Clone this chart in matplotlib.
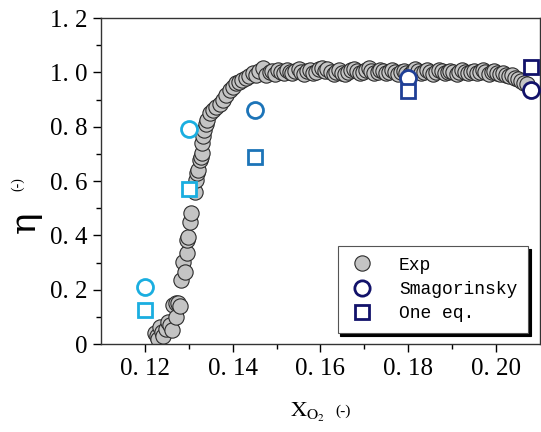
import numpy as np
import matplotlib
matplotlib.use('Agg')
import matplotlib.pyplot as plt
from matplotlib.lines import Line2D

# experiment, steep part
exp_x_low = [0.1223, 0.1228, 0.1230, 0.1234, 0.1238, 0.1242, 0.1247, 0.1253, 0.1258, 0.1261,
             0.1264, 0.1270, 0.1272, 0.1276, 0.1280, 0.1283, 0.1287, 0.1291, 0.1295, 0.1295,
             0.1298, 0.1302, 0.1306, 0.1314, 0.1317, 0.1319, 0.1321, 0.1325, 0.1327, 0.1329,
             0.1331, 0.1333, 0.1335, 0.1340, 0.1342, 0.1348, 0.1355, 0.1363, 0.1370, 0.1378,
             0.1385, 0.1393, 0.1400, 0.1408, 0.1415, 0.1422, 0.1431, 0.1438, 0.1446, 0.1452,
             0.1460, 0.1469, 0.1477]
exp_y_low = [0.039, 0.030, 0.020, 0.064, 0.045, 0.030, 0.055, 0.082, 0.070, 0.052,
             0.144, 0.150, 0.100, 0.150, 0.140, 0.235, 0.303, 0.266, 0.334, 0.383,
             0.395, 0.450, 0.481, 0.561, 0.604, 0.628, 0.640, 0.677, 0.689, 0.702,
             0.739, 0.765, 0.788, 0.810, 0.824, 0.849, 0.860, 0.873, 0.885, 0.898,
             0.915, 0.935, 0.945, 0.959, 0.965, 0.970, 0.978, 0.985, 0.996, 0.990,
             1.005, 1.015, 0.990]
# experiment, plateau
exp_x_top = [0.1484, 0.1490, 0.1497, 0.1503, 0.1510, 0.1516, 0.1523, 0.1530, 0.1536, 0.1543,
             0.1550, 0.1556, 0.1563, 0.1570, 0.1576, 0.1583, 0.1590, 0.1596, 0.1603, 0.1610,
             0.1616, 0.1623, 0.1630, 0.1636, 0.1643, 0.1650, 0.1656, 0.1663, 0.1670, 0.1676,
             0.1683, 0.1690, 0.1696, 0.1703, 0.1710, 0.1716, 0.1723, 0.1730, 0.1736, 0.1743,
             0.1750, 0.1756, 0.1763, 0.1770, 0.1776, 0.1783, 0.1790, 0.1796, 0.1803, 0.1810,
             0.1816, 0.1823, 0.1830, 0.1836, 0.1843, 0.1850, 0.1856, 0.1863, 0.1870, 0.1876,
             0.1883, 0.1890, 0.1896, 0.1903, 0.1910, 0.1916, 0.1923, 0.1930, 0.1936, 0.1943,
             0.1950, 0.1956, 0.1963, 0.1970, 0.1976, 0.1983, 0.1990, 0.1996, 0.2003, 0.2010,
             0.2016, 0.2023, 0.2030, 0.2036, 0.2043, 0.2050, 0.2056, 0.2063, 0.2070]
exp_y_top = [1.000, 1.005, 0.995, 1.008, 1.002, 0.997, 1.010, 1.003, 0.996, 1.006,
             1.012, 1.000, 0.994, 1.004, 1.009, 0.998, 1.002, 1.011, 1.016, 1.006,
             1.014, 1.003, 0.995, 1.001, 1.007, 0.999, 0.993, 1.003, 1.008, 1.012,
             1.004, 0.997, 1.002, 1.009, 1.016, 1.005, 0.998, 1.003, 1.010, 1.004,
             0.996, 1.001, 1.007, 1.002, 0.995, 1.000, 1.006, 0.999, 0.993, 1.004,
             1.012, 1.005, 0.998, 1.003, 1.008, 1.001, 0.995, 1.002, 1.009, 1.004,
             0.997, 1.001, 1.006, 1.000, 0.994, 1.003, 1.008, 1.002, 0.996, 1.000,
             1.005, 0.998, 1.003, 1.007, 1.001, 0.995, 1.000, 1.004, 0.998, 0.993,
             0.997, 0.990, 0.985, 0.992, 0.980, 0.975, 0.968, 0.962, 0.958]

# simulations
sim_x = [0.12, 0.13, 0.145, 0.18, 0.208]
smag_y = [0.21, 0.79, 0.86, 0.98, 0.935]
oneq_y = [0.125, 0.57, 0.69, 0.93, 1.02]

xticks = [0.12, 0.14, 0.16, 0.18, 0.20]
xtick_labels = ['0. 12', '0. 14', '0. 16', '0. 18', '0. 20']
yticks = [0, 0.2, 0.4, 0.6, 0.8, 1.0, 1.2]
ytick_labels = ['0', '0. 2', '0. 4', '0. 6', '0. 8', '1. 0', '1. 2']

sim_colors = ['#1aaee0', '#1aaee0', '#1c74b8', '#1f3f96', '#12126a']
navy = '#12126a'

plt.rcParams['font.family'] = ['Liberation Serif', 'DejaVu Serif']
plt.rcParams['mathtext.fontset'] = 'stix'

fig = plt.figure(figsize=(5.41, 4.32), dpi=100)
ax = fig.add_axes([0.1867, 0.2037, 0.8113, 0.7546])

ax.plot(exp_x_low + exp_x_top, exp_y_low + exp_y_top, 'o', ms=11, mfc='#c4c4c4',
        mec='#2a2a2a', mew=0.8, ls='none', zorder=2)

for i in range(len(sim_x)):
    ax.plot(sim_x[i], smag_y[i], 'o', ms=11.5, mfc='white', mec=sim_colors[i], mew=2.0, zorder=3)
    ax.plot(sim_x[i], oneq_y[i], 's', ms=10, mfc='white', mec=sim_colors[i], mew=2.0, zorder=3)

ax.set_xlim(0.11, 0.21)
ax.set_ylim(0, 1.2)
ax.set_xticks(xticks)
ax.set_xticklabels(xtick_labels)
ax.set_xticks(np.arange(0.13, 0.21, 0.02), minor=True)
ax.set_yticks(yticks)
ax.set_yticklabels(ytick_labels)
ax.set_yticks(np.arange(0.1, 1.2, 0.2), minor=True)
ax.tick_params(which='major', direction='out', length=6, width=1, labelsize=18, pad=4)
ax.tick_params(which='minor', direction='out', length=3.5, width=1)
for s in ax.spines.values():
    s.set_linewidth(1.0)
    s.set_color('#333333')

# labels
fig.text(0.045, 0.485, 'η', rotation=90, fontsize=26, ha='center', va='center', family='DejaVu Serif')
fig.text(0.032, 0.575, '(-)', rotation=90, fontsize=10, ha='center', va='center')
fig.text(0.568, 0.045, r'$\mathrm{X_{O_2}}$', fontsize=16, ha='center', va='center')
fig.text(0.635, 0.048, '(-)', fontsize=11, ha='center', va='center')

handles = [
    Line2D([], [], ls='none', marker='o', ms=11, mfc='#c4c4c4', mec='#2a2a2a', mew=0.8),
    Line2D([], [], ls='none', marker='o', ms=11, mfc='white', mec=navy, mew=2.0),
    Line2D([], [], ls='none', marker='s', ms=10, mfc='white', mec=navy, mew=2.0),
]
leg = ax.legend(handles, ['Exp', 'Smagorinsky', 'One eq.'], loc='lower right',
                bbox_to_anchor=(0.973, 0.034), fancybox=False, framealpha=1,
                shadow={'color': 'black', 'alpha': 1}, edgecolor='#555555',
                prop={'family': 'Liberation Mono', 'size': 13}, handletextpad=1.3,
                labelspacing=0.4, borderpad=0.6, handlelength=1.5, borderaxespad=0)
leg.get_frame().set_linewidth(0.8)

fig.savefig('out.png', dpi=100)
